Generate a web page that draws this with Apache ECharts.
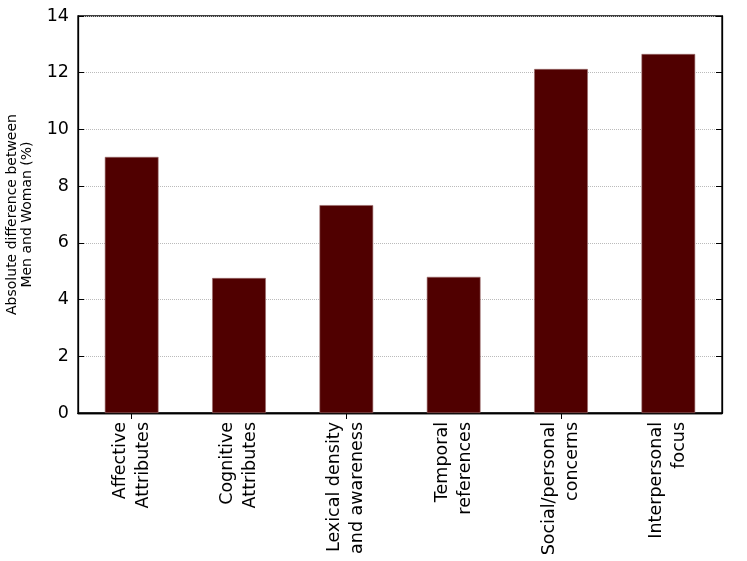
<!DOCTYPE html>
<html><head><meta charset="utf-8">
<script src="https://cdn.jsdelivr.net/npm/echarts@6/dist/echarts.min.js"></script>
<style>html,body{margin:0;padding:0;background:#fff}#c{width:747px;height:561px}</style>
</head><body><div id="c"></div>
<script>
var categories = ["Affective\nAttributes","Cognitive\nAttributes","Lexical density\nand awareness","Temporal\nreferences","Social/personal\nconcerns","Interpersonal\nfocus"];
var values = [9.03, 4.76, 7.33, 4.8, 12.13, 12.66];
var yTitle = "Absolute difference between\nMen and Woman (%)";
var font = "DejaVu Sans";
var chart = echarts.init(document.getElementById('c'), null, {renderer:'canvas'});
chart.setOption({
  animation:false,
  textStyle:{fontFamily:font},
  grid:{left:78,right:25,top:16,bottom:148,show:true,borderColor:'#000',borderWidth:1.3,backgroundColor:'transparent',outerBoundsMode:'none',containLabel:false},
  xAxis:[{
    type:'category',data:categories,position:'bottom',
    axisLine:{show:true,lineStyle:{color:'#000',width:1.3}},
    axisTick:{show:true,inside:true,alignWithLabel:true,length:6,lineStyle:{color:'#000'}},
    axisLabel:{rotate:90,fontSize:17.5,color:'#000',fontFamily:font,margin:9,align:'right',lineHeight:23,interval:0},
    splitLine:{show:false}
  },{
    type:'category',data:categories,position:'top',
    axisLine:{show:true,lineStyle:{color:'#000',width:1.3}},
    axisTick:{show:true,inside:true,alignWithLabel:true,length:6,lineStyle:{color:'#000'}},
    axisLabel:{show:false}
  }],
  yAxis:[{
    type:'value',min:0,max:14,interval:2,
    name:yTitle,nameLocation:'middle',nameGap:43,nameRotate:90,
    nameTextStyle:{fontSize:14,color:'#000',fontFamily:font,lineHeight:15,align:'center'},
    axisLine:{show:true,lineStyle:{color:'#000',width:1.3}},
    axisTick:{show:true,inside:true,length:6,lineStyle:{color:'#000'}},
    axisLabel:{fontSize:17.5,color:'#000',fontFamily:font,margin:9},
    splitLine:{show:true,lineStyle:{color:'#bbb',type:[1,1],width:1}}
  },{
    type:'value',min:0,max:14,interval:2,position:'right',
    axisLine:{show:true,lineStyle:{color:'#000',width:1.3}},
    axisTick:{show:true,inside:true,length:6,lineStyle:{color:'#000'}},
    axisLabel:{show:false},splitLine:{show:false}
  }],
  series:[{
    type:'bar',data:values,xAxisIndex:0,yAxisIndex:0,barWidth:'50%',
    itemStyle:{color:'#500000',borderColor:'#9a6a6a',borderWidth:0.6}
  }]
});
</script></body></html>
